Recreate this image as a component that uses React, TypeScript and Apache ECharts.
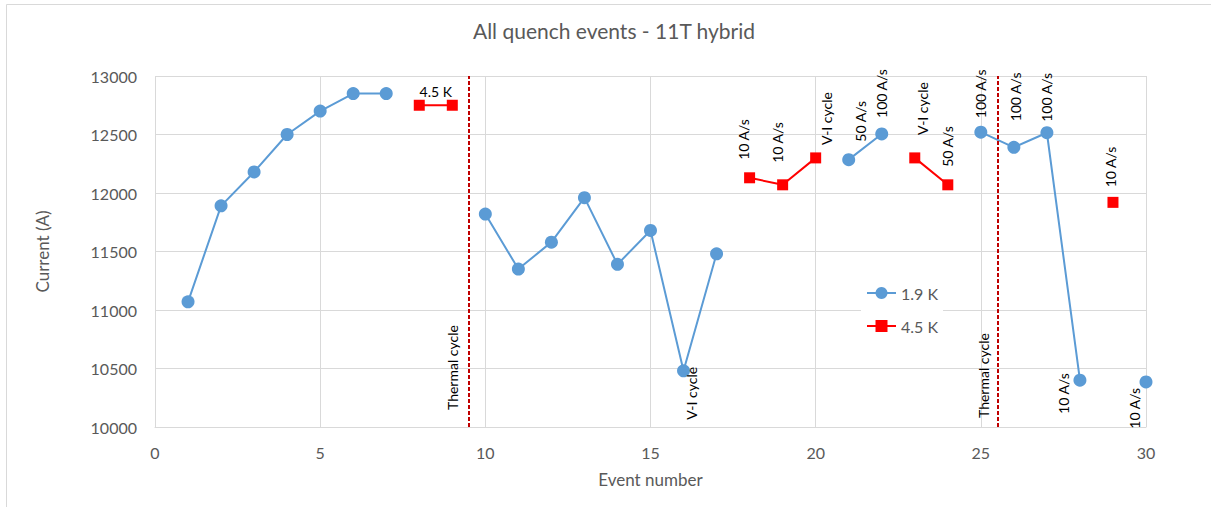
import React, { useEffect, useRef } from "react";
import * as echarts from "echarts";

// ---- data ----
const eventNumbers = Array.from({ length: 30 }, (_, i) => i + 1);

// Current (A) per event for the 1.9 K runs (null = no 1.9 K quench at that event)
const current19: (number | null)[] = [
  11070, 11890, 12180, 12500, 12700, 12850, 12850, null, null, 11820,
  11350, 11580, 11960, 11390, 11680, 10480, 11480, null, null, null,
  12285, 12505, null, null, 12520, 12390, 12515, 10400, null, 10385,
];

// Current (A) per event for the 4.5 K runs
const current45: (number | null)[] = [
  null, null, null, null, null, null, null, 12750, 12750, null,
  null, null, null, null, null, null, null, 12130, 12070, 12300,
  null, null, 12300, 12070, null, null, null, null, 11920, null,
];

// annotations per event
const notes19: Record<number, string> = {
  16: "V-I cycle", 21: "50 A/s", 22: "100 A/s", 25: "100 A/s",
  26: "100 A/s", 27: "100 A/s", 28: "10 A/s", 30: "10 A/s",
};
const notes45: Record<number, string> = {
  18: "10 A/s", 19: "10 A/s", 20: "V-I cycle", 23: "V-I cycle",
  24: "50 A/s", 29: "10 A/s",
};

const thermalCycles = [9.5, 25.5];
const thermalLabel = "Thermal cycle";
const seriesNames = ["1.9 K", "4.5 K"];
const xTicks = { min: 0, max: 30, interval: 5 };
const yTicks = { min: 10000, max: 13000, interval: 500 };

// ---- label placement (screen px from the point: dx, dy, direction) ----
type Place = [number, number, "up" | "down"];
const place19: Record<number, Place> = {
  16: [8, -4, "down"], 21: [12, -18, "up"], 22: [0, -16, "up"], 25: [0, -14, "up"],
  26: [2, -26, "up"], 27: [0, -11, "up"], 28: [-16, -7, "down"], 30: [-12, 6, "down"],
};
const place45: Record<number, Place> = {
  18: [-6, -18, "up"], 19: [-5, -22, "up"], 20: [11, -13, "up"], 23: [8, -23, "up"],
  24: [0, -18, "up"], 29: [-2, -15, "up"],
};
const placeThermal: Place[] = [[-16, -17, "up"], [-14, -9, "up"]];

const FONT = "Lato, 'Open Sans', sans-serif";
const GRAY = "#595959";

function rotLabel(text: string, p: Place) {
  const [dx, dy, dir] = p;
  return {
    show: true,
    formatter: text,
    position: "inside",
    rotate: 90,
    align: dir === "up" ? "left" : "right",
    verticalAlign: "middle",
    offset: [-dy, dx],
    color: "#000",
    textBorderWidth: 0,
    fontSize: 14,
    fontFamily: FONT,
  };
}

function buildData(values: (number | null)[], notes: Record<number, string>, places: Record<number, Place>) {
  return eventNumbers.map((e, i) => {
    const v = values[i];
    const item: any = { value: [e, v == null ? "-" : v] };
    if (notes[e] && places[e]) item.label = rotLabel(notes[e], places[e]);
    return item;
  });
}

export default function App() {
  const ref = useRef<HTMLDivElement>(null);
  useEffect(() => {
    document.body.style.margin = "0";
    if (!ref.current) return;
    const chart = echarts.init(ref.current, undefined, { renderer: "svg" });
    const i8 = eventNumbers.indexOf(8);
    const i9 = eventNumbers.indexOf(9);
    const option: any = {
      animation: false,
      backgroundColor: "#fff",
      textStyle: { fontFamily: FONT },
      title: {
        text: "All quench events - 11T hybrid",
        left: 609,
        textAlign: "center",
        top: 15,
        textStyle: { fontSize: 21, color: GRAY, fontWeight: "normal", fontFamily: FONT },
      },
      graphic: [
        {
          type: "rect",
          shape: { x: 6.5, y: 4.5, width: 1230, height: 530 },
          style: { fill: "none", stroke: "#D9D9D9", lineWidth: 1 },
          silent: true,
          z: -1,
        },
      ],
      legend: {
        data: seriesNames,
        orient: "vertical",
        left: 861,
        top: 280,
        padding: 5,
        itemWidth: 29,
        itemHeight: 15,
        itemGap: 17,
        backgroundColor: "#fff",
        textStyle: { color: GRAY, fontSize: 16, fontFamily: FONT },
      },
      grid: { left: 155, right: 65, top: 76, bottom: 80 },
      xAxis: {
        type: "value",
        ...xTicks,
        name: "Event number",
        nameLocation: "middle",
        nameGap: 44,
        nameTextStyle: { color: GRAY, fontSize: 17, fontFamily: FONT },
        axisLine: { show: true, lineStyle: { color: "#D9D9D9", width: 1 } },
        axisTick: { show: false },
        axisLabel: { color: GRAY, fontSize: 16, margin: 17, fontFamily: FONT },
        splitLine: { show: true, lineStyle: { color: "#D9D9D9", width: 1 } },
      },
      yAxis: {
        type: "value",
        ...yTicks,
        name: "Current (A)",
        nameLocation: "middle",
        nameGap: 104,
        nameRotate: 90,
        nameTextStyle: { color: GRAY, fontSize: 17, fontFamily: FONT },
        axisLine: { show: false },
        axisTick: { show: false },
        axisLabel: {
          color: GRAY,
          fontSize: 16,
          margin: 18,
          fontFamily: FONT,
          formatter: (v: number) => String(v),
        },
        splitLine: { show: true, lineStyle: { color: "#D9D9D9", width: 1 } },
      },
      series: [
        {
          name: seriesNames[0],
          type: "line",
          data: buildData(current19, notes19, place19),
          symbol: "circle",
          symbolSize: 13,
          showAllSymbol: true,
          connectNulls: false,
          itemStyle: { color: "#5B9BD5" },
          lineStyle: { color: "#5B9BD5", width: 2 },
          emphasis: { disabled: true },
          z: 3,
        },
        {
          name: seriesNames[1],
          type: "line",
          data: buildData(current45, notes45, place45),
          symbol: "rect",
          symbolSize: 11,
          showAllSymbol: true,
          connectNulls: false,
          itemStyle: { color: "#FF0000" },
          lineStyle: { color: "#FF0000", width: 2 },
          emphasis: { disabled: true },
          z: 3,
          markLine: {
            silent: true,
            symbol: "none",
            animation: false,
            label: { show: false },
            lineStyle: { color: "#C00000", type: [4, 2], width: 2 },
            data: thermalCycles.map((x) => ({ xAxis: x })),
          },
          markPoint: {
            silent: true,
            symbol: "circle",
            symbolSize: 1,
            itemStyle: { color: "rgba(0,0,0,0)" },
            data: [
              ...thermalCycles.map((x, k) => ({
                coord: [x, yTicks.min],
                label: rotLabel(thermalLabel, placeThermal[k]),
              })),
              {
                coord: [(eventNumbers[i8] + eventNumbers[i9]) / 2, current45[i8]],
                label: {
                  show: true,
                  formatter: seriesNames[1],
                  position: "inside",
                  offset: [0, -14],
                  color: "#000",
                  textBorderWidth: 0,
                  fontSize: 14,
                  fontFamily: FONT,
                },
              },
            ],
          },
        },
      ],
    };
    chart.setOption(option);
    return () => chart.dispose();
  }, []);
  return <div ref={ref} style={{ width: 1211, height: 507 }} />;
}
